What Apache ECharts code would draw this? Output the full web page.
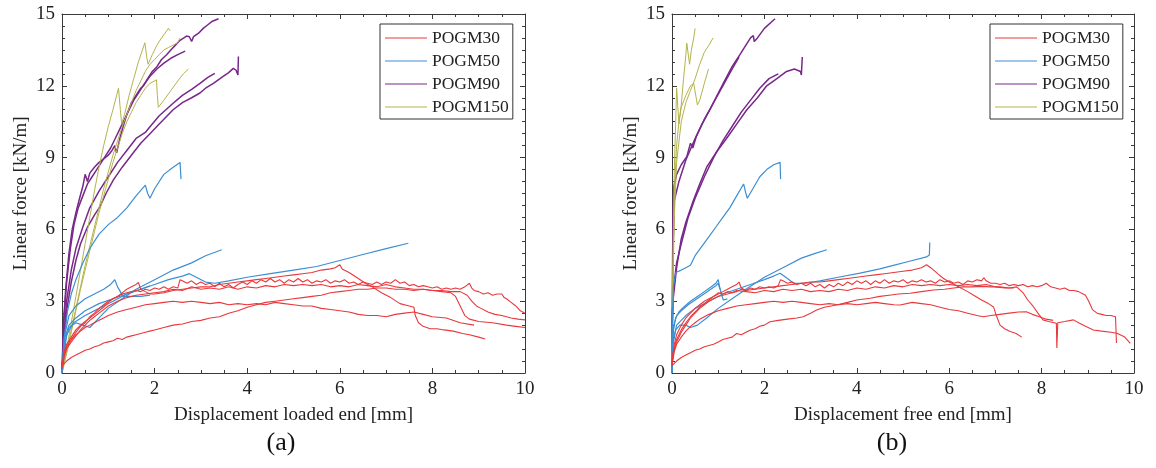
<!DOCTYPE html>
<html><head><meta charset="utf-8">
<script src="https://cdn.jsdelivr.net/npm/echarts@6/dist/echarts.min.js"></script>
<style>html,body{margin:0;padding:0;background:#fff}#c{width:1156px;height:468px}</style>
</head><body><div id="c"></div>
<script>
// ---------- Labels ----------
const groupNames = ['POGM30', 'POGM50', 'POGM90', 'POGM150'];
const xTitles = ['Displacement loaded end [mm]', 'Displacement free end [mm]'];
const yTitle = 'Linear force [kN/m]';
const panelLabels = ['(a)', '(b)'];

// ---------- Panel (a): loaded end ----------
const a_red1 = [[0,0.4],[0.05,0.9],[0.1,1.2],[0.2,1.5],[0.3,1.8],[0.4,2.0],[0.5,2.15],[0.6,2.3],[0.7,2.45],[0.8,2.6],[0.9,2.75],[1.0,2.95],[1.1,3.1],[1.2,3.2],[1.3,3.35],[1.4,3.5],[1.5,3.6],[1.6,3.7],[1.65,3.78],[1.7,3.5],[1.8,3.4],[1.9,3.3],[2.0,3.3],[2.2,3.35],[2.4,3.45],[2.6,3.5],[2.8,3.55],[3.0,3.6],[3.2,3.6],[3.4,3.7],[3.6,3.75],[3.8,3.8],[4.0,3.85],[4.2,3.9],[4.4,3.95],[4.6,4.0],[4.8,4.05],[5.0,4.1],[5.2,4.15],[5.4,4.2],[5.6,4.3],[5.8,4.35],[5.9,4.4],[6.0,4.52],[6.05,4.35],[6.2,4.2],[6.4,3.95],[6.55,3.75],[6.7,3.6],[6.9,3.35],[7.1,3.15],[7.3,2.9],[7.5,2.8],[7.6,2.75],[7.63,2.4],[7.7,2.1],[7.8,1.95],[7.95,1.85],[8.1,1.85],[8.25,1.8],[8.45,1.75],[8.65,1.65],[8.8,1.6],[9.0,1.5],[9.14,1.42]];
const a_red2 = [[0,0.3],[0.05,0.8],[0.1,1.1],[0.2,1.4],[0.3,1.7],[0.4,1.95],[0.5,2.1],[0.6,2.35],[0.7,2.5],[0.8,2.7],[0.9,2.85],[1.0,3.0],[1.1,3.1],[1.2,3.2],[1.3,3.3],[1.4,3.35],[1.5,3.4],[1.6,3.45],[1.7,3.4],[1.8,3.5],[1.9,3.45],[2.0,3.55],[2.1,3.5],[2.2,3.6],[2.3,3.5],[2.4,3.6],[2.5,3.55],[2.55,3.9],[2.6,3.85],[2.7,3.75],[2.8,3.85],[2.9,3.7],[3.0,3.8],[3.1,3.7],[3.2,3.75],[3.3,3.6],[3.4,3.75],[3.5,3.6],[3.6,3.7],[3.7,3.55],[3.8,3.7],[3.9,3.8],[4.0,3.7],[4.1,3.85],[4.2,3.75],[4.3,3.9],[4.4,3.8],[4.5,3.95],[4.6,3.8],[4.7,3.9],[4.8,3.75],[4.9,3.9],[5.0,3.8],[5.1,3.95],[5.2,3.8],[5.3,3.9],[5.4,3.75],[5.5,3.85],[5.6,3.8],[5.7,3.9],[5.8,3.75],[5.9,3.85],[6.0,3.8],[6.1,3.9],[6.2,3.75],[6.3,3.8],[6.4,3.7],[6.5,3.8],[6.6,3.75],[6.7,3.7],[6.8,3.8],[6.9,3.7],[7.0,3.8],[7.1,3.75],[7.2,3.9],[7.3,3.75],[7.4,3.8],[7.5,3.65],[7.6,3.7],[7.7,3.6],[7.8,3.65],[7.9,3.6],[8.0,3.55],[8.1,3.6],[8.2,3.5],[8.3,3.55],[8.4,3.5],[8.5,3.55],[8.6,3.5],[8.7,3.6],[8.8,3.75],[8.85,3.55],[8.9,3.45],[9.0,3.4],[9.1,3.3],[9.2,3.35],[9.3,3.25],[9.4,3.3],[9.5,3.3],[9.55,3.15],[9.6,3.1],[9.7,2.95],[9.8,2.8],[9.9,2.6],[10,2.5]];
const a_red3 = [[0,0.2],[0.05,0.7],[0.1,1.0],[0.2,1.3],[0.3,1.55],[0.4,1.8],[0.5,2.0],[0.6,2.2],[0.7,2.35],[0.8,2.5],[0.9,2.65],[1.0,2.8],[1.2,3.0],[1.4,3.15],[1.6,3.25],[1.8,3.3],[2.0,3.35],[2.2,3.4],[2.4,3.5],[2.6,3.45],[2.8,3.6],[3.0,3.5],[3.2,3.55],[3.4,3.5],[3.6,3.6],[3.8,3.5],[4.0,3.6],[4.2,3.55],[4.4,3.65],[4.6,3.6],[4.8,3.7],[5.0,3.65],[5.2,3.7],[5.4,3.65],[5.6,3.7],[5.8,3.6],[6.0,3.65],[6.2,3.6],[6.4,3.7],[6.6,3.65],[6.8,3.6],[7.0,3.7],[7.2,3.6],[7.4,3.55],[7.6,3.5],[7.8,3.5],[8.0,3.45],[8.2,3.45],[8.4,3.4],[8.6,3.4],[8.75,3.25],[8.85,3.0],[8.95,2.8],[9.05,2.7],[9.2,2.55],[9.35,2.45],[9.5,2.4],[9.7,2.3],[9.85,2.25],[10,2.22]];
const a_red4 = [[0,0.3],[0.1,0.5],[0.2,0.65],[0.3,0.75],[0.4,0.85],[0.5,0.95],[0.6,1.0],[0.7,1.1],[0.8,1.15],[0.9,1.25],[1.0,1.3],[1.1,1.35],[1.2,1.45],[1.3,1.4],[1.4,1.5],[1.5,1.55],[1.6,1.6],[1.7,1.65],[1.8,1.7],[1.9,1.75],[2.0,1.8],[2.2,1.9],[2.4,2.0],[2.6,2.05],[2.8,2.15],[3.0,2.2],[3.2,2.3],[3.4,2.35],[3.6,2.5],[3.8,2.6],[4.0,2.75],[4.2,2.85],[4.4,2.95],[4.6,3.0],[4.8,3.05],[5.0,3.1],[5.2,3.15],[5.4,3.2],[5.6,3.25],[5.8,3.35],[6.0,3.4],[6.2,3.45],[6.4,3.5],[6.6,3.5],[6.8,3.55],[7.0,3.55],[7.2,3.5],[7.4,3.5],[7.6,3.45],[7.8,3.5],[8.0,3.45],[8.2,3.4],[8.4,3.35],[8.5,3.2],[8.6,2.8],[8.7,2.4],[8.8,2.25],[9.0,2.15],[9.3,2.1],[9.6,2.0],[9.8,1.95],[10,1.9]];
const a_red5 = [[0,0.2],[0.05,0.8],[0.1,1.1],[0.2,1.4],[0.3,1.6],[0.4,1.75],[0.5,1.9],[0.6,2.0],[0.7,2.1],[0.8,2.2],[0.9,2.3],[1.0,2.4],[1.2,2.55],[1.4,2.65],[1.6,2.75],[1.8,2.85],[2.0,2.9],[2.2,2.95],[2.4,3.0],[2.6,2.95],[2.8,3.0],[3.0,2.95],[3.2,2.9],[3.4,2.95],[3.6,2.85],[3.8,2.9],[4.0,2.85],[4.2,2.9],[4.4,2.85],[4.6,2.95],[4.8,2.9],[5.0,2.85],[5.2,2.8],[5.4,2.8],[5.6,2.7],[5.8,2.65],[6.0,2.6],[6.2,2.55],[6.4,2.45],[6.6,2.4],[6.8,2.4],[7.0,2.35],[7.2,2.45],[7.4,2.5],[7.6,2.55],[7.8,2.45],[8.0,2.35],[8.3,2.3],[8.6,2.1],[8.9,2.0]];
const a_blue1 = [[0,0],[0.05,1.5],[0.12,2.6],[0.2,3.3],[0.3,3.9],[0.45,4.6],[0.6,5.2],[0.8,5.8],[1.0,6.2],[1.2,6.5],[1.4,6.9],[1.6,7.4],[1.8,7.85],[1.85,7.5],[1.9,7.3],[2.0,7.7],[2.2,8.3],[2.4,8.6],[2.55,8.8],[2.57,8.1]];
const a_blue2 = [[0,0],[0.05,1.2],[0.15,1.9],[0.3,2.1],[0.45,2.0],[0.6,1.9],[0.8,2.3],[1.0,2.7],[1.3,3.1],[1.6,3.5],[2.0,3.9],[2.4,4.3],[2.8,4.6],[3.1,4.9],[3.45,5.15]];
const a_blue3 = [[0,0],[0.05,1.5],[0.15,2.4],[0.3,2.8],[0.5,3.1],[0.7,3.3],[0.9,3.5],[1.05,3.7],[1.14,3.9],[1.2,3.6],[1.32,3.2],[1.5,3.2],[1.7,3.2],[1.9,3.25]];
const a_blue4 = [[0,0],[0.05,1.4],[0.15,2.0],[0.3,2.3],[0.5,2.6],[0.8,2.9],[1.1,3.1],[1.4,3.3],[1.7,3.5],[2.0,3.7],[2.3,3.9],[2.6,4.05],[2.75,4.15],[2.9,4.0],[3.1,3.8],[3.3,3.75],[3.6,3.85],[4.0,4.0],[4.5,4.15],[5.0,4.3],[5.5,4.45],[6.0,4.7],[6.5,4.95],[7.0,5.2],[7.48,5.42]];
const a_blue5 = [[0,0],[0.1,1.6],[0.25,2.1],[0.5,2.4],[0.8,2.7],[1.1,3.0],[1.4,3.3],[1.7,3.5],[1.9,3.64]];
const a_purple1 = [[0,0],[0.03,2.0],[0.08,3.5],[0.15,5.0],[0.22,6.0],[0.3,6.7],[0.38,7.3],[0.45,7.8],[0.5,8.3],[0.55,8.0],[0.6,8.35],[0.7,8.6],[0.8,8.8],[0.9,8.95],[1.0,9.1],[1.08,9.3],[1.14,9.5],[1.18,9.2],[1.25,9.8],[1.32,10.3],[1.4,10.8],[1.5,11.3],[1.6,11.6],[1.7,11.9],[1.76,12.0],[1.85,12.3],[1.95,12.6],[2.05,12.8],[2.15,13.1],[2.26,13.3],[2.35,13.5],[2.45,13.7],[2.55,13.9],[2.69,14.08],[2.75,14.05],[2.8,13.85],[2.84,14.05],[2.95,14.2],[3.05,14.4],[3.15,14.55],[3.25,14.7],[3.38,14.8]];
const a_purple2 = [[0,0],[0.05,1.5],[0.1,2.6],[0.2,3.8],[0.3,4.7],[0.4,5.4],[0.55,6.1],[0.7,6.6],[0.82,6.95],[0.95,7.5],[1.11,8.07],[1.3,8.6],[1.54,9.2],[1.7,9.6],[1.9,10.0],[2.1,10.4],[2.4,11.0],[2.6,11.3],[2.8,11.5],[2.98,11.7],[3.1,11.9],[3.27,12.1],[3.45,12.35],[3.6,12.55],[3.7,12.73],[3.76,12.65],[3.8,12.45],[3.81,13.22]];
const a_purple3 = [[0,0],[0.05,1.8],[0.1,3.0],[0.2,4.3],[0.3,5.2],[0.45,6.1],[0.6,6.9],[0.8,7.6],[1.0,8.2],[1.2,8.8],[1.4,9.3],[1.6,9.8],[1.8,10.05],[1.9,10.29],[2.1,10.75],[2.4,11.27],[2.6,11.6],[2.8,11.85],[2.98,12.1],[3.15,12.35],[3.3,12.52]];
const a_purple4 = [[0,0],[0.04,2.2],[0.1,3.8],[0.18,5.2],[0.26,6.2],[0.35,6.9],[0.45,7.4],[0.55,7.9],[0.65,8.2],[0.75,8.5],[0.85,8.8],[0.95,9.1],[1.05,9.4],[1.15,9.8],[1.25,10.2],[1.35,10.6],[1.45,11.0],[1.55,11.4],[1.65,11.7],[1.75,12.0],[1.9,12.4],[2.05,12.7],[2.2,12.95],[2.35,13.15],[2.5,13.3],[2.66,13.45]];
const a_olive1 = [[0,0],[0.1,1.0],[0.2,2.1],[0.3,3.2],[0.4,4.3],[0.5,5.4],[0.6,6.5],[0.7,7.6],[0.8,8.6],[0.9,9.5],[1.0,10.3],[1.1,11.0],[1.22,11.9],[1.26,11.0],[1.29,10.4],[1.35,10.8],[1.45,11.6],[1.55,12.3],[1.65,13.0],[1.79,13.8],[1.83,13.2],[1.86,12.9],[1.95,13.3],[2.05,13.7],[2.15,14.0],[2.3,14.4],[2.33,14.3]];
const a_olive2 = [[0,0],[0.1,0.8],[0.2,1.7],[0.3,2.6],[0.4,3.5],[0.5,4.3],[0.6,5.1],[0.7,5.9],[0.8,6.7],[0.9,7.4],[1.0,8.1],[1.1,8.8],[1.2,9.4],[1.3,10.0],[1.4,10.5],[1.5,10.9],[1.6,11.3],[1.7,11.6],[1.8,11.9],[1.9,12.1],[2.04,12.25],[2.06,11.6],[2.08,11.1],[2.2,11.4],[2.35,11.8],[2.5,12.2],[2.62,12.5],[2.73,12.7]];
const a_olive3 = [[0,0],[0.1,0.9],[0.2,1.8],[0.3,2.7],[0.4,3.6],[0.5,4.5],[0.6,5.3],[0.7,6.1],[0.8,6.9],[0.9,7.7],[1.0,8.4],[1.1,9.1],[1.2,9.7],[1.3,10.3],[1.4,10.8],[1.5,11.3],[1.6,11.8],[1.7,12.2],[1.8,12.6],[1.9,12.9],[2.0,13.1],[2.1,13.3],[2.2,13.5],[2.3,13.6],[2.4,13.7],[2.5,13.8],[2.55,14.0]];

// ---------- Panel (b): free end ----------
const b_red1 = [[0,0.4],[0.02,0.8],[0.05,1.1],[0.1,1.4],[0.2,1.8],[0.3,2.1],[0.4,2.35],[0.5,2.55],[0.6,2.75],[0.7,2.9],[0.8,3.05],[0.9,3.2],[1.0,3.3],[1.1,3.4],[1.2,3.5],[1.3,3.6],[1.4,3.7],[1.45,3.8],[1.5,3.55],[1.6,3.45],[1.8,3.5],[2.0,3.55],[2.2,3.6],[2.4,3.65],[2.6,3.7],[2.8,3.75],[3.0,3.8],[3.2,3.8],[3.4,3.85],[3.6,3.9],[3.8,3.95],[4.0,4.0],[4.2,4.05],[4.4,4.1],[4.6,4.15],[4.8,4.2],[5.0,4.25],[5.2,4.3],[5.4,4.4],[5.51,4.52],[5.6,4.4],[5.75,4.15],[5.87,3.96],[6.0,3.8],[6.2,3.6],[6.4,3.4],[6.52,3.26],[6.7,3.05],[6.85,2.9],[6.96,2.76],[7.02,2.4],[7.1,2.0],[7.2,1.85],[7.32,1.73],[7.45,1.65],[7.57,1.5]];
const b_red2 = [[0,0.3],[0.02,0.7],[0.05,1.0],[0.1,1.3],[0.2,1.7],[0.3,2.0],[0.4,2.3],[0.5,2.5],[0.6,2.7],[0.7,2.85],[0.8,3.0],[0.9,3.1],[1.0,3.2],[1.1,3.25],[1.2,3.3],[1.3,3.35],[1.4,3.4],[1.5,3.5],[1.6,3.45],[1.7,3.55],[1.8,3.5],[1.9,3.6],[2.0,3.55],[2.1,3.6],[2.2,3.55],[2.3,3.65],[2.35,3.9],[2.4,3.85],[2.5,3.75],[2.6,3.8],[2.7,3.7],[2.8,3.75],[2.9,3.65],[3.0,3.75],[3.1,3.6],[3.2,3.7],[3.3,3.55],[3.4,3.7],[3.5,3.6],[3.6,3.75],[3.7,3.65],[3.8,3.8],[3.9,3.7],[4.0,3.85],[4.1,3.75],[4.2,3.85],[4.3,3.7],[4.4,3.85],[4.5,3.75],[4.6,3.9],[4.7,3.75],[4.8,3.85],[4.9,3.8],[5.0,3.9],[5.1,3.75],[5.2,3.85],[5.3,3.8],[5.4,3.9],[5.5,3.8],[5.6,3.85],[5.7,3.75],[5.8,3.9],[5.9,3.8],[6.0,3.85],[6.1,3.75],[6.2,3.8],[6.3,3.7],[6.4,3.85],[6.5,3.8],[6.6,3.9],[6.7,3.85],[6.75,3.98],[6.8,3.85],[6.9,3.75],[7.0,3.75],[7.1,3.7],[7.2,3.75],[7.3,3.65],[7.4,3.7],[7.5,3.65],[7.6,3.7],[7.7,3.6],[7.8,3.65],[7.9,3.6],[8.0,3.65],[8.1,3.75],[8.2,3.6],[8.3,3.55],[8.4,3.5],[8.5,3.55],[8.6,3.45],[8.7,3.45],[8.8,3.4],[8.9,3.3],[8.95,3.25],[9.02,3.0],[9.1,2.65],[9.2,2.5],[9.3,2.45],[9.4,2.4],[9.5,2.4],[9.6,2.35],[9.62,1.25]];
const b_red3 = [[0,0.3],[0.05,0.4],[0.1,0.5],[0.2,0.65],[0.3,0.75],[0.4,0.85],[0.5,0.95],[0.6,1.0],[0.7,1.1],[0.8,1.15],[0.9,1.2],[1.0,1.3],[1.1,1.4],[1.2,1.45],[1.3,1.5],[1.4,1.65],[1.5,1.6],[1.6,1.7],[1.7,1.8],[1.8,1.85],[1.9,1.95],[2.0,2.0],[2.12,2.14],[2.3,2.2],[2.5,2.25],[2.7,2.3],[2.84,2.35],[3.0,2.5],[3.13,2.63],[3.3,2.75],[3.56,2.84],[3.8,2.95],[4.0,3.05],[4.29,3.12],[4.5,3.2],[4.7,3.25],[4.9,3.3],[5.15,3.33],[5.4,3.4],[5.66,3.47],[5.9,3.5],[6.1,3.55],[6.3,3.6],[6.5,3.6],[6.7,3.62],[6.9,3.6],[7.1,3.6],[7.3,3.55],[7.46,3.6],[7.6,3.35],[7.7,3.05],[7.82,2.78],[7.92,2.5],[8.03,2.22],[8.15,2.15],[8.32,2.08],[8.33,1.05],[8.35,2.1],[8.5,2.15],[8.69,2.22],[8.8,2.1],[8.95,1.95],[9.12,1.8],[9.3,1.75],[9.5,1.7],[9.63,1.66],[9.7,1.6],[9.8,1.5],[9.92,1.24]];
const b_red4 = [[0,0.3],[0.05,0.9],[0.1,1.2],[0.2,1.5],[0.3,1.75],[0.4,1.95],[0.5,2.1],[0.6,2.25],[0.7,2.35],[0.8,2.45],[1.0,2.6],[1.2,2.7],[1.4,2.8],[1.6,2.85],[1.8,2.9],[2.0,2.95],[2.2,3.0],[2.4,2.95],[2.6,3.0],[2.8,2.95],[3.0,2.9],[3.2,2.85],[3.4,2.9],[3.6,2.85],[3.8,2.9],[4.0,2.85],[4.2,2.9],[4.4,2.95],[4.6,2.9],[4.8,2.85],[4.94,2.84],[5.2,2.95],[5.4,2.9],[5.6,2.85],[5.8,2.75],[6.0,2.65],[6.2,2.6],[6.4,2.5],[6.6,2.4],[6.74,2.35],[6.9,2.4],[7.1,2.45],[7.3,2.5],[7.5,2.55],[7.67,2.56],[7.8,2.45],[7.95,2.35],[8.1,2.25],[8.25,2.2]];
const b_red5 = [[0,0.5],[0.05,1.2],[0.1,1.6],[0.2,2.0],[0.3,2.3],[0.4,2.5],[0.5,2.7],[0.6,2.85],[0.7,3.0],[0.8,3.1],[0.9,3.2],[1.0,3.35],[1.1,3.3],[1.2,3.4],[1.3,3.35],[1.4,3.45],[1.6,3.4],[1.8,3.35],[2.0,3.45],[2.2,3.4],[2.4,3.5],[2.6,3.45],[2.8,3.5],[3.0,3.4],[3.2,3.45],[3.4,3.4],[3.6,3.5],[3.8,3.45],[4.0,3.55],[4.2,3.5],[4.4,3.6],[4.6,3.55],[4.8,3.65],[5.0,3.6],[5.2,3.7],[5.4,3.65],[5.6,3.7],[5.8,3.65],[6.0,3.7],[6.2,3.65],[6.4,3.7],[6.6,3.65],[6.8,3.7],[7.0,3.6],[7.2,3.55],[7.4,3.55]];
const b_blue1 = [[0,0],[0.01,2.5],[0.03,3.6],[0.08,4.2],[0.2,4.3],[0.3,4.4],[0.4,4.5],[0.5,4.9],[0.65,5.3],[0.8,5.7],[0.95,6.1],[1.1,6.5],[1.25,6.9],[1.4,7.4],[1.55,7.9],[1.6,7.5],[1.63,7.3],[1.75,7.7],[1.9,8.2],[2.05,8.5],[2.2,8.7],[2.34,8.8],[2.35,8.1]];
const b_blue2 = [[0,0],[0.02,1.2],[0.08,1.8],[0.17,2.0],[0.3,2.0],[0.4,1.9],[0.55,2.0],[0.75,2.3],[1.0,2.7],[1.3,3.1],[1.6,3.5],[2.0,4.0],[2.4,4.4],[2.8,4.8],[3.1,5.0],[3.35,5.15]];
const b_blue3 = [[0,0],[0.01,1.0],[0.03,1.8],[0.08,2.3],[0.15,2.55],[0.25,2.75],[0.4,3.0],[0.55,3.2],[0.7,3.4],[0.85,3.6],[0.95,3.75],[1.0,3.9],[1.03,3.6],[1.07,3.3],[1.11,3.05],[1.2,3.1]];
const b_blue4 = [[0,0],[0.02,1.3],[0.1,2.0],[0.3,2.4],[0.5,2.7],[0.8,3.0],[1.1,3.3],[1.4,3.5],[1.7,3.7],[2.0,3.9],[2.2,4.05],[2.34,4.17],[2.5,3.95],[2.63,3.75],[2.9,3.75],[3.2,3.85],[3.6,4.0],[4.07,4.17],[4.5,4.35],[4.79,4.5],[5.1,4.65],[5.51,4.85],[5.57,4.93],[5.58,5.45]];
const b_blue5 = [[0,0],[0.01,1.2],[0.04,2.0],[0.1,2.4],[0.2,2.6],[0.35,2.85],[0.5,3.05],[0.65,3.25],[0.8,3.45],[0.95,3.65],[1.0,3.75],[1.04,3.5]];
const b_purple1 = [[0,0],[0.01,4.0],[0.02,6.5],[0.04,7.8],[0.1,8.3],[0.2,8.7],[0.32,9.04],[0.4,9.6],[0.45,9.4],[0.53,9.9],[0.65,10.4],[0.82,11.0],[0.95,11.5],[1.11,12.1],[1.3,12.8],[1.47,13.3],[1.6,13.7],[1.7,14.0],[1.76,14.1],[1.78,13.85],[1.85,14.0],[2.0,14.4],[2.23,14.8]];
const b_purple2 = [[0,0],[0.005,2.0],[0.02,3.0],[0.1,4.4],[0.2,5.6],[0.3,6.3],[0.46,7.2],[0.6,7.9],[0.75,8.6],[0.95,9.2],[1.18,9.8],[1.4,10.4],[1.62,11.0],[1.85,11.5],[2.05,12.0],[2.27,12.3],[2.48,12.6],[2.65,12.7],[2.78,12.6],[2.8,12.45],[2.82,13.2]];
const b_purple3 = [[0,0],[0.01,2.5],[0.03,3.5],[0.1,4.6],[0.2,5.4],[0.35,6.5],[0.5,7.3],[0.7,8.2],[0.9,9.0],[1.1,9.7],[1.3,10.3],[1.5,10.9],[1.7,11.4],[1.9,11.9],[2.1,12.3],[2.3,12.5]];
const b_purple4 = [[0,0],[0.02,5.0],[0.05,7.2],[0.15,8.0],[0.3,8.9],[0.5,9.8],[0.7,10.6],[0.9,11.3],[1.1,12.0],[1.3,12.7],[1.45,13.2]];
const b_olive1 = [[0,0],[0.01,3.0],[0.03,6.0],[0.05,8.5],[0.08,10.5],[0.1,11.9],[0.15,10.4],[0.2,11.2],[0.25,12.3],[0.3,13.3],[0.32,13.78],[0.38,12.9],[0.42,13.5],[0.47,14.0],[0.5,14.4]];
const b_olive2 = [[0,0],[0.02,4.0],[0.05,7.5],[0.1,9.5],[0.15,10.5],[0.2,11.1],[0.3,11.6],[0.4,12.0],[0.47,12.1],[0.55,11.2],[0.6,11.4],[0.7,12.1],[0.79,12.7]];
const b_olive3 = [[0,0],[0.02,3.5],[0.05,6.5],[0.1,8.8],[0.2,10.5],[0.3,11.3],[0.4,11.8],[0.5,12.3],[0.6,12.9],[0.7,13.4],[0.8,13.7],[0.89,14.0]];

const groupColors = ['#e8383c', '#3d8ed3', '#78288a', '#b3b34c'];
const groupWidths = [1.1, 1.2, 1.5, 1.0];

// draw order: purple, olive, blue, red
const panels = [
  {grid: 0, curves: [[2, a_purple1],[2, a_purple2],[2, a_purple3],[2, a_purple4],[3, a_olive1],[3, a_olive2],[3, a_olive3],[1, a_blue1],[1, a_blue2],[1, a_blue3],[1, a_blue4],[1, a_blue5],[0, a_red1],[0, a_red2],[0, a_red3],[0, a_red4],[0, a_red5]]},
  {grid: 1, curves: [[2, b_purple1],[2, b_purple2],[2, b_purple3],[2, b_purple4],[3, b_olive1],[3, b_olive2],[3, b_olive3],[1, b_blue1],[1, b_blue2],[1, b_blue3],[1, b_blue4],[1, b_blue5],[0, b_red1],[0, b_red2],[0, b_red3],[0, b_red4],[0, b_red5]]}
];

const FONT = "'Liberation Serif', 'Times New Roman', serif";
const axisCol = '#3a3a3a';
const grids = [{left: 62, top: 14, width: 463, height: 359}, {left: 672, top: 14, width: 462, height: 359}];

const xAxes = [], yAxes = [];
grids.forEach((g, i) => {
  const base = {
    gridIndex: i, type: 'value',
    axisLine: {show: true, onZero: false, lineStyle: {color: axisCol, width: 1}},
    axisTick: {show: true, inside: true, length: 5, lineStyle: {color: axisCol}},
    splitLine: {show: false}
  };
  xAxes.push(Object.assign({}, base, {
    position: 'bottom', min: 0, max: 10, interval: 2,
    minorTick: {show: true, splitNumber: 4, length: 3, lineStyle: {color: axisCol}},
    axisLabel: {fontFamily: FONT, fontSize: 19, color: '#222', margin: 7},
    name: xTitles[i], nameLocation: 'middle', nameGap: 33,
    nameTextStyle: {fontFamily: FONT, fontSize: 19, color: '#222'}
  }));
  xAxes.push(Object.assign({}, base, {
    position: 'top', min: 0, max: 10, interval: 2,
    minorTick: {show: true, splitNumber: 4, length: 3, lineStyle: {color: axisCol}},
    axisLabel: {show: false}
  }));
  yAxes.push(Object.assign({}, base, {
    position: 'left', min: 0, max: 15, interval: 3,
    minorTick: {show: true, splitNumber: 6, length: 3, lineStyle: {color: axisCol}},
    axisLabel: {fontFamily: FONT, fontSize: 19, color: '#222', margin: 7},
    name: yTitle, nameLocation: 'middle', nameGap: 31, nameRotate: 90,
    nameTextStyle: {fontFamily: FONT, fontSize: 19, color: '#222'}
  }));
  yAxes.push(Object.assign({}, base, {
    position: 'right', min: 0, max: 15, interval: 3,
    minorTick: {show: true, splitNumber: 6, length: 3, lineStyle: {color: axisCol}},
    axisLabel: {show: false}
  }));
});

const series = [];
panels.forEach(p => {
  p.curves.forEach(([gi, data]) => {
    series.push({
      type: 'line', name: groupNames[gi],
      xAxisIndex: p.grid * 2, yAxisIndex: p.grid * 2,
      data: data, symbol: 'none', showSymbol: false, silent: true,
      color: groupColors[gi],
      lineStyle: {color: groupColors[gi], width: groupWidths[gi]},
      itemStyle: {color: groupColors[gi]}
    });
  });
});

const legendData = groupNames.map((n, i) => ({
  name: n,
  icon: 'rect',
  itemStyle: {color: groupColors[i], borderWidth: 0},
  lineStyle: {color: groupColors[i]}
}));

const legendBase = {
  orient: 'vertical', top: 24, data: legendData,
  itemWidth: 42, itemHeight: 1, itemGap: 5,
  padding: [5, 4, 3, 5],
  borderColor: '#333', borderWidth: 1, backgroundColor: '#fff',
  textStyle: {fontFamily: FONT, fontSize: 17.5, color: '#222', lineHeight: 17},
  selectedMode: false
};

const option = {
  animation: false,
  backgroundColor: '#fff',
  grid: grids,
  xAxis: xAxes,
  yAxis: yAxes,
  legend: [Object.assign({}, legendBase, {left: 380}), Object.assign({}, legendBase, {left: 990})],
  graphic: [
    {type: 'text', x: 281, y: 443, style: {text: panelLabels[0], font: '26px ' + FONT, fill: '#111', align: 'center', verticalAlign: 'middle'}},
    {type: 'text', x: 892, y: 443, style: {text: panelLabels[1], font: '26px ' + FONT, fill: '#111', align: 'center', verticalAlign: 'middle'}}
  ],
  series: series
};

const chart = echarts.init(document.getElementById('c'), null, {renderer: 'canvas'});
chart.setOption(option);
</script>
</body></html>
